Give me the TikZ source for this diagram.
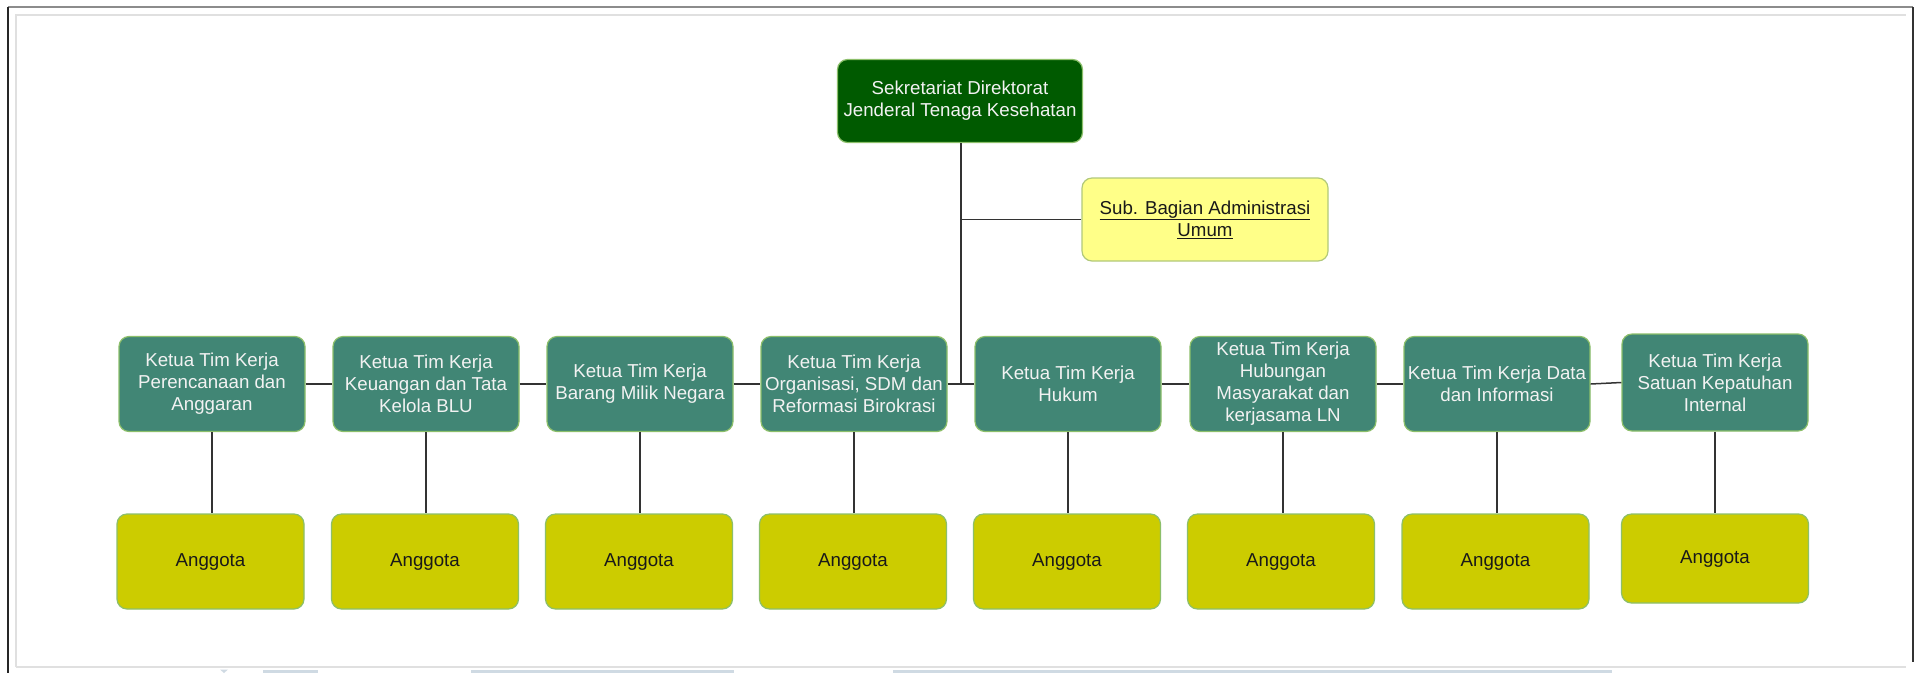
\documentclass[tikz,border=0pt]{standalone}
\usepackage{fontspec}
\setmainfont{Liberation Sans}
\usetikzlibrary{calc}
\definecolor{topgreen}{HTML}{005A00}
\definecolor{kgreen}{HTML}{418675}
\definecolor{boxstroke}{HTML}{8CBF6A}
\definecolor{anggfill}{HTML}{CCCC00}
\definecolor{subfill}{HTML}{FFFF88}
\definecolor{substroke}{HTML}{B2C97A}
\definecolor{linecol}{HTML}{333333}
\definecolor{tabcol}{HTML}{CFDAE3}
\tikzset{
  base/.style={rounded corners=10pt, line width=1.2pt, draw=boxstroke, align=center,
    inner sep=0pt, font=\fontsize{18.7}{22}\selectfont},
  ketua/.style={base, fill=kgreen, text=white!95!black, minimum width=186pt, minimum height=95pt},
  angg/.style={base, fill=anggfill, text=black!90, minimum width=187pt, minimum height=95pt},
  topbox/.style={base, fill=topgreen, text=white!95!black, minimum width=245pt, minimum height=83pt},
  subbox/.style={base, fill=subfill, draw=substroke, text=black!90, minimum width=246pt, minimum height=83pt},
  conn/.style={draw=linecol, line width=1.5pt}
}
\begin{document}
\begin{tikzpicture}[x=1pt,y=-1pt]
\useasboundingbox (0,0) rectangle (1919,673);
% frame
\fill[white] (0,0) rectangle (1919,673);
\draw[draw=black!45, line width=2.5pt] (8,7) -- (1913,7);
\draw[draw=black!85, line width=1.5pt] (8,7) -- (8,673);
\draw[draw=black!80, line width=1.5pt] (1913,7) -- (1913,662);
\draw[draw=black!12, line width=2pt] (16,667) -- (16,15) -- (1906,15);
\draw[draw=black!12, line width=2pt] (16,667) -- (1906,667);
\fill[tabcol] (263,669.5) rectangle (318,673);
\fill[tabcol] (471,669.5) rectangle (734,673);
\fill[tabcol] (893,669.5) rectangle (1612,673);
\fill[tabcol] (220,669.5) -- (228,669.5) -- (224,673) -- cycle;

% nodes
\node[topbox] (top) at (960,101) {Sekretariat Direktorat\\Jenderal Tenaga Kesehatan};
\node[subbox] (sub) at (1205,219.5) {\underline{Sub. Bagian Administrasi}\\\underline{Umum}};

\node[ketua] (k1) at (212,384) {Ketua Tim Kerja\\Perencanaan dan\\Anggaran};
\node[ketua] (k2) at (426,384) {Ketua Tim Kerja\\Keuangan dan Tata\\Kelola BLU};
\node[ketua] (k3) at (640,384) {Ketua Tim Kerja\\Barang Milik Negara};
\node[ketua] (k4) at (854,384) {Ketua Tim Kerja\\Organisasi, SDM dan\\Reformasi Birokrasi};
\node[ketua] (k5) at (1068,384) {Ketua Tim Kerja\\Hukum};
\node[ketua] (k6) at (1283,384) {Ketua Tim Kerja\\Hubungan\\Masyarakat dan\\kerjasama LN};
\node[ketua] (k7) at (1497,384) {Ketua Tim Kerja Data\\dan Informasi};
\node[ketua, minimum height=97pt] (k8) at (1715,382.5) {Ketua Tim Kerja\\Satuan Kepatuhan\\Internal};

\node[angg] (a1) at (210.5,561.5) {Anggota};
\node[angg] (a2) at (425,561.5) {Anggota};
\node[angg] (a3) at (639,561.5) {Anggota};
\node[angg] (a4) at (853,561.5) {Anggota};
\node[angg] (a5) at (1067,561.5) {Anggota};
\node[angg] (a6) at (1281,561.5) {Anggota};
\node[angg] (a7) at (1495.5,561.5) {Anggota};
\node[angg, minimum height=89pt] (a8) at (1715,558.5) {Anggota};

% connectors
\coordinate (j) at ($(k4.east)!0.5!(k5.west)$);
\draw[conn] (top.south -| j) -- (j);
\draw[conn] (sub.west) -- (sub.west -| j);
\foreach \i/\n in {1/2,2/3,3/4,4/5,5/6,6/7,7/8}{
  \draw[conn] (k\i.east) -- (k\n.west);
}
\foreach \i in {1,...,8}{
  \draw[conn] (k\i.south) -- (k\i.south |- a\i.north);
}
\end{tikzpicture}
\end{document}
